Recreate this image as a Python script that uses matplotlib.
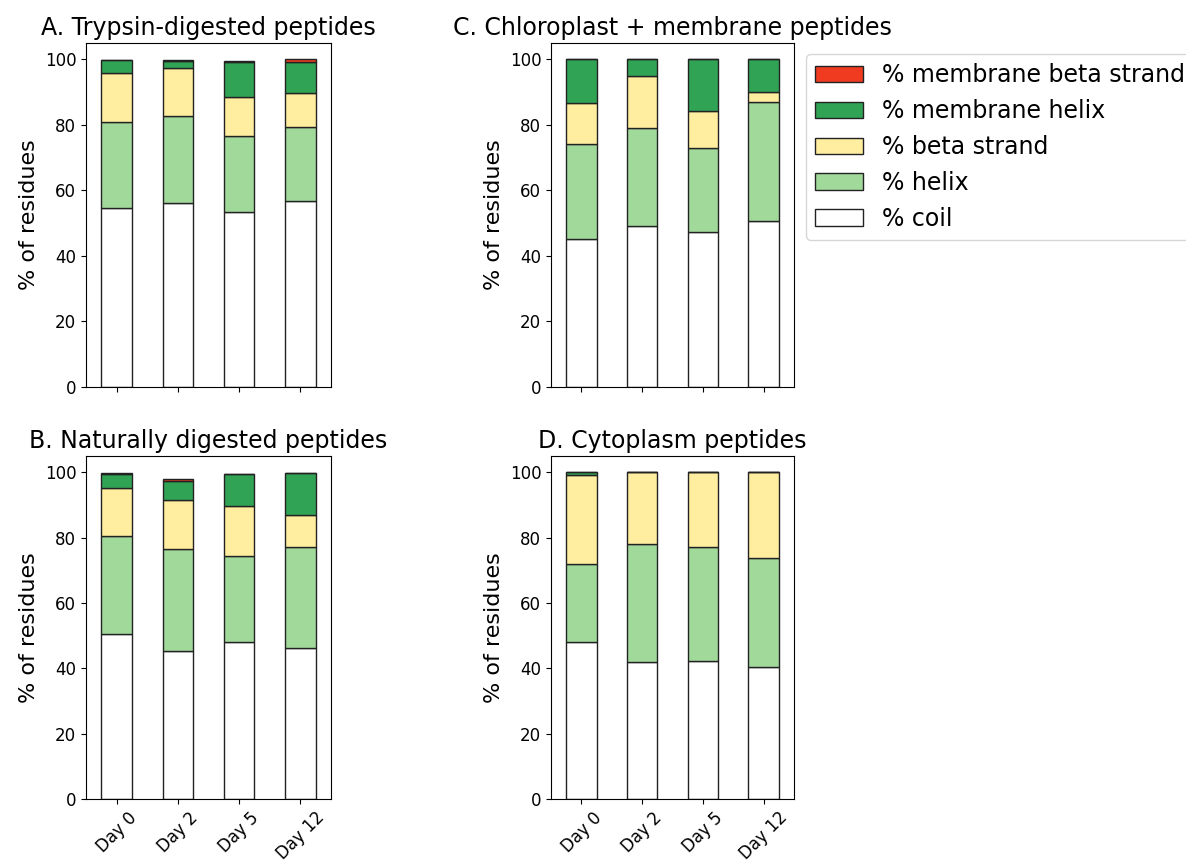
import matplotlib
matplotlib.use("Agg")
import matplotlib.pyplot as plt
import numpy as np

days = ["Day 0", "Day 2", "Day 5", "Day 12"]
series = ["% coil", "% helix", "% beta strand", "% membrane helix", "% membrane beta strand"]
colors = ["#ffffff", "#a1d99b", "#ffeda0", "#31a354", "#f03b20"]

# Trypsin-digested peptides
trypsin_coil = [54.6, 56.2, 53.4, 56.7]
trypsin_helix = [26.4, 26.6, 23.3, 22.8]
trypsin_beta = [14.8, 14.5, 11.8, 10.2]
trypsin_mem_helix = [4.0, 2.1, 10.8, 9.4]
trypsin_mem_beta = [0.1, 0.4, 0.3, 0.9]

# Naturally digested peptides
natural_coil = [50.4, 45.4, 48.0, 46.1]
natural_helix = [30.0, 31.1, 26.5, 31.0]
natural_beta = [14.8, 14.9, 15.1, 9.8]
natural_mem_helix = [4.3, 6.0, 9.8, 13.0]
natural_mem_beta = [0.4, 0.5, 0.1, 0.0]

# Chloroplast + membrane peptides
chloro_coil = [45.3, 49.2, 47.3, 50.6]
chloro_helix = [28.9, 30.0, 25.8, 36.4]
chloro_beta = [12.4, 15.7, 11.2, 2.9]
chloro_mem_helix = [13.4, 5.1, 15.7, 10.1]
chloro_mem_beta = [0.0, 0.0, 0.0, 0.0]

# Cytoplasm peptides
cyto_coil = [48.2, 41.9, 42.3, 40.5]
cyto_helix = [23.8, 36.1, 34.9, 33.2]
cyto_beta = [27.2, 22.1, 22.8, 26.3]
cyto_mem_helix = [0.8, 0.0, 0.0, 0.0]
cyto_mem_beta = [0.0, 0.0, 0.0, 0.0]

panels = [
    ("A. Trypsin-digested peptides",
     [trypsin_coil, trypsin_helix, trypsin_beta, trypsin_mem_helix, trypsin_mem_beta]),
    ("C. Chloroplast + membrane peptides",
     [chloro_coil, chloro_helix, chloro_beta, chloro_mem_helix, chloro_mem_beta]),
    ("B. Naturally digested peptides",
     [natural_coil, natural_helix, natural_beta, natural_mem_helix, natural_mem_beta]),
    ("D. Cytoplasm peptides",
     [cyto_coil, cyto_helix, cyto_beta, cyto_mem_helix, cyto_mem_beta]),
]

W, H = 1186, 860
fig = plt.figure(figsize=(W / 100, H / 100), dpi=100)

# axes boxes in pixels: left, top, right, bottom
boxes = [(86, 43, 331, 387), (551, 43, 794, 387),
         (86, 456, 331, 799), (551, 456, 794, 799)]

x = np.arange(len(days))
axes = []
for i, ((title, vals), (l, t, r, b)) in enumerate(zip(panels, boxes)):
    ax = fig.add_axes([l / W, 1 - b / H, (r - l) / W, (b - t) / H])
    bottom = np.zeros(len(days))
    handles = []
    for name, v, c in zip(series, vals, colors):
        v = np.asarray(v, dtype=float)
        h = ax.bar(x, v, width=0.5, bottom=bottom, color=c,
                   edgecolor="#222222", linewidth=1.0, label=name)
        handles.append(h)
        bottom = bottom + v
    ax.set_xlim(-0.5, 3.5)
    ax.set_ylim(0, 105)
    ax.set_yticks([0, 20, 40, 60, 80, 100])
    ax.set_xticks(x)
    ax.tick_params(axis="both", labelsize=12)
    if i >= 2:
        ax.set_xticklabels(days, rotation=45, ha="center")
    else:
        ax.set_xticklabels([])
    ax.set_title(title, fontsize=17)
    ax.set_ylabel("% of residues", fontsize=16)
    axes.append((ax, handles))

ax_c, handles_c = axes[1]
leg = fig.legend(handles_c[::-1], series[::-1], loc="upper left",
                 bbox_to_anchor=(806 / W, 1 - 54 / H),
                 bbox_transform=fig.transFigure, borderaxespad=0,
                 fontsize=17, labelspacing=0.5, frameon=True)

fig.savefig("out.png", dpi=100)
